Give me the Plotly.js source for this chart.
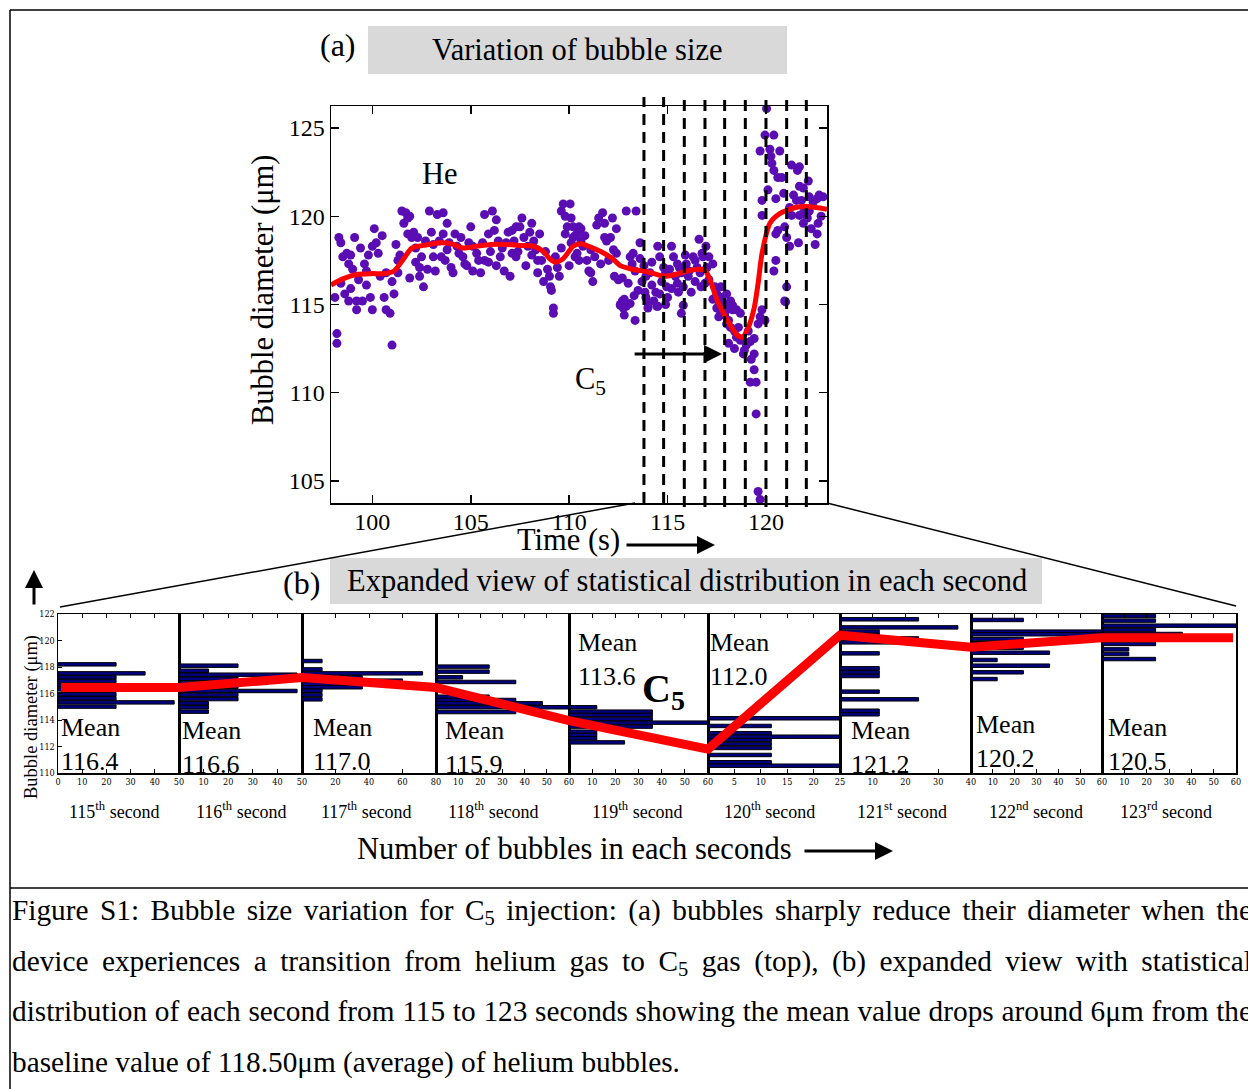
<!DOCTYPE html>
<html>
<head>
<meta charset="utf-8">
<script src="https://cdn.plot.ly/plotly-3.0.1.min.js"></script>
<style>
html,body{margin:0;padding:0;background:#fff;overflow:hidden;width:1248px;height:1089px;}
#chart{position:absolute;left:0;top:0;width:1248px;height:1089px;}
#caption{position:absolute;left:12px;top:885px;width:1240px;font-family:'Liberation Serif','Times New Roman',serif;font-size:29.3px;line-height:50.5px;color:#000;}
#caption div{text-align:justify;text-align-last:justify;}
#caption div.last{text-align:left;text-align-last:left;}
#caption sub{font-size:0.7em;vertical-align:-0.25em;line-height:0;}
</style>
</head>
<body>
<div id="chart"></div>
<div id="caption">
<div>Figure S1: Bubble size variation for C<sub>5</sub> injection: (a) bubbles sharply reduce their diameter when the</div>
<div>device experiences a transition from helium gas to C<sub>5</sub> gas (top), (b) expanded view with statistical</div>
<div>distribution of each second from 115 to 123 seconds showing the mean value drops around 6μm from the</div>
<div class="last">baseline value of 118.50μm (average) of helium bubbles.</div>
</div>
<script>
// ---------------- DATA ----------------
// (a) bubble diameter vs time
const scatterTime = [
98.1,98.3,98.4,98.5,98.6,98.7,98.8,98.9,99.0,99.1,98.8,99.2,99.3,99.5,99.6,99.7,99.7,99.9,100.0,100.1,100.2,100.3,99.2,100.0,
100.6,100.7,100.7,100.9,101.0,101.1,101.2,101.3,101.3,101.5,101.6,101.7,101.8,101.8,101.9,102.0,102.1,102.2,102.3,102.4,102.4,102.5,102.6,102.8,102.9,103.0,103.1,103.1,103.3,103.4,103.5,103.6,103.6,103.7,103.8,103.9,
104.0,104.1,104.2,104.4,104.5,104.6,104.7,104.9,105.1,105.1,105.3,105.4,105.6,105.7,105.7,105.9,106.0,106.1,106.2,106.3,106.4,106.5,106.7,106.8,106.9,107.0,107.1,107.2,107.3,107.3,
107.5,107.6,107.7,107.9,108.0,108.1,108.2,108.3,108.4,108.4,108.6,108.7,108.9,109.0,109.05,109.1,109.2,109.2,109.4,109.5,109.6,109.7,109.8,109.8,109.9,110.1,110.2,110.4,110.5,
98.2,98.2,101.0,112.6,112.8,112.9,113.1,113.35,114.0,114.5,115.7,117.5,117.7,117.9,118.1,118.2,118.3,118.4,118.5,118.1,118.4,118.7,118.85,119.0,119.2,119.4,119.4,119.25,118.9,119.4,119.2,119.5,119.5,119.6,119.7,119.7,119.95,119.8,121.0,
110.05,110.1,110.2,110.4,110.6,110.6,110.7,110.3,110.5,110.9,111.0,111.1,111.2,111.3,111.4,111.5,111.7,111.8,111.8,111.9,112.1,112.2,112.25,112.3,112.4,112.5,112.6,112.7,112.75,112.8,112.9,113.1,113.2,113.25,113.35,113.4,113.5,
113.6,113.7,113.8,113.85,113.9,114.0,114.1,114.2,114.3,114.4,114.45,114.5,114.6,114.7,114.8,114.9,114.95,115.0,115.1,115.2,115.3,115.4,115.5,115.55,115.6,115.7,115.8,115.9,115.95,116.05,116.1,116.3,116.4,116.5,116.6,116.65,116.75,116.8,116.9,116.95,117.0,117.1,117.3,
117.4,117.5,117.75,117.9,118.0,118.2,118.3,118.5,118.7,117.6,117.7,118.0,
120.03,119.95,120.4,119.7,120.2,120.7,120.25,120.3,120.4,120.6,120.8,121.6,121.7,122.15,121.7,121.9,122.2,122.6,122.7,122.9,121.4,121.55,121.2,121.3,121.7,121.9,122.2,122.65,122.6,122.5,
119.8,119.8,120.9,120.6,120.5,121.05,121.2,121.65,120.5,121.05,120.95,121.9,122.1,120.95,120.4,
98.4,98.9,99.4,99.8,100.4,100.5,101.4,101.9,102.2,102.7,103.2,103.8,104.3,104.8,105.0,105.5,105.9,106.3,106.6,107.1,107.4,107.8,108.1,108.5,108.8,109.3,109.6,110.0,110.3,110.8,
111.1,111.6,112.0,112.4,112.7,113.0,113.3,113.6,113.9,114.2,114.6,114.9,115.2,115.5,115.8,116.2,116.4,116.7,117.1,117.3,117.6,118.0,118.6,119.1,119.6,120.1,120.5,121.3,121.8,122.4,122.8,122.3
];
const scatterDiam = [
115.4,118.8,118.5,117.7,115.6,117.9,117.3,117.8,117.0,118.8,115.2,115.2,116.4,115.2,117.3,116.9,116.1,115.4,118.3,119.3,118.5,117.9,114.7,114.7,
115.4,116.8,114.7,114.5,116.3,115.6,118.4,116.8,117.5,120.3,119.6,120.2,119.0,119.9,120.0,118.8,119.1,118.2,118.8,117.1,116.6,117.7,116.0,117.0,120.3,119.1,118.4,117.7,120.1,118.6,117.7,120.2,119.0,117.5,119.6,118.5,
117.1,116.8,119.0,117.9,118.8,117.7,117.3,118.5,118.3,116.9,117.9,117.5,118.5,117.5,120.1,119.0,118.0,120.3,119.2,119.8,118.6,117.7,116.9,118.5,119.1,116.6,119.2,118.6,119.4,117.7,
119.4,119.9,118.8,118.3,119.1,119.6,118.6,118.1,117.5,116.8,117.5,116.3,117.0,116.6,116.0,115.8,114.8,114.5,117.1,116.6,120.3,120.7,120.0,119.0,119.4,118.5,118.8,117.9,119.4,
113.35,112.8,112.7,114.96,114.4,114.9,115.05,114.1,114.8,114.9,114.5,114.8,114.6,114.4,114.1,113.7,114.7,113.5,113.15,112.8,112.5,112.97,112.2,112.7,112.9,113.07,112.2,111.9,112.4,111.3,110.6,110.6,108.8,104.4,103.95,114.3,114.1,114.7,115.15,
120.7,119.9,119.4,119.0,119.3,118.6,118.3,117.7,117.5,117.5,116.9,116.8,116.3,117.7,119.5,119.9,120.2,119.6,118.8,118.6,118.8,119.9,118.1,116.6,117.9,116.4,115.0,115.2,114.8,115.3,120.3,117.7,117.3,117.9,116.9,120.3,115.8,
118.5,116.3,117.2,115.7,115.4,115.05,116.8,116.1,115.2,115.7,114.9,118.3,117.7,116.3,117.1,116.8,116.0,115.4,117.0,118.3,117.7,116.6,117.3,115.7,117.1,116.8,114.96,117.8,117.3,116.6,116.9,117.7,117.5,117.1,118.7,116.8,117.9,117.7,116.2,118.3,117.1,116.4,117.3,
116.0,115.6,115.4,115.05,114.7,115.2,114.96,114.7,114.5,115.2,116.0,115.6,
126.1,124.6,124.6,123.7,123.8,123.7,123.4,123.0,122.6,122.2,122.2,122.6,122.8,122.0,121.7,121.6,121.1,121.0,121.2,121.1,121.2,120.9,120.5,120.05,120.05,120.2,120.3,119.6,119.0,118.4,
120.9,120.05,121.3,119.2,119.0,118.8,118.3,118.5,117.5,116.0,115.2,119.6,119.9,119.4,116.9,
116.2,115.9,118.2,117.8,116.6,118.9,117.8,116.5,117.4,118.6,116.9,118.1,118.3,117.2,119.4,116.8,117.4,117.2,118.2,117.9,118.0,117.2,117.8,119.0,118.0,117.7,118.2,117.2,118.9,118.9,
118.1,117.3,117.5,119.3,116.5,116.2,115.5,117.6,116.6,117.4,115.6,115.0,115.9,116.2,116.0,115.7,116.3,116.0,117.7,115.3,114.3,113.9,113.7,113.5,113.9,121.5,121.0,122.9,120.9,120.8,120.0,119.3
];
// smoothed trend (red curve)
const fitTime = [97.9,98.5,99.2,100.0,100.6,101.1,101.6,102.0,102.6,103.4,104.0,104.6,105.3,106.0,106.8,107.5,108.2,108.7,109.0,109.3,109.7,110.2,110.6,111.2,111.7,112.2,112.6,113.2,113.8,114.3,114.8,115.4,116.0,116.5,116.9,117.15,117.5,117.8,118.2,118.5,118.8,119.1,119.4,119.6,119.8,120.2,120.7,121.5,122.1,123.1];
const fitDiam = [116.1,116.45,116.7,116.75,116.75,116.9,117.6,118.2,118.35,118.5,118.45,118.2,118.3,118.4,118.4,118.35,118.3,118.0,117.6,117.4,117.6,118.3,118.45,118.2,117.95,117.6,117.2,117.0,116.9,116.75,116.6,116.7,116.9,117.0,116.95,116.4,115.3,114.6,113.8,113.3,113.15,113.7,114.8,116.2,117.9,119.6,120.15,120.5,120.55,120.4];
// dashed second markers
const secondMarks = [113.8,114.8,115.85,116.9,117.9,118.95,120.0,121.05,122.05];
const topXTicks = [100,105,110,115,120];
const topYTicks = [105,110,115,120,125];

// (b) per-second histograms
const secondLabels = ['115<sup>th</sup> second','116<sup>th</sup> second','117<sup>th</sup> second','118<sup>th</sup> second','119<sup>th</sup> second','120<sup>th</sup> second','121<sup>st</sup> second','122<sup>nd</sup> second','123<sup>rd</sup> second'];
const meanValues = ['116.4','116.6','117.0','115.9','113.6','112.0','121.2','120.2','120.5'];
const countRanges = [50,50,80,60,60,25,40,60,60];
const countTicks = [[0,10,20,30,40,50],[10,20,30,40,50],[20,40,60,80],[10,20,30,40,50,60],[10,20,30,40,50,60],[5,10,15,20,25],[10,20,30,40],[10,20,30,40,50,60],[10,20,30,40,50,60]];
const diamTicks = [110,112,114,116,118,120,122];

const hist115Diam = [118.2,117.52,117.22,116.94,116.62,116.31,115.94,115.64,115.33,115.01];
const hist115Count = [24,36,24,24,24,24,24,24,48,24];
const hist116Diam = [118.1,117.72,117.42,117.11,116.8,116.5,116.19,115.89,115.58,115.26,114.96,114.63];
const hist116Count = [24,12,48,24,36,24,48,24,24,12,12,12];
const hist117Diam = [118.45,117.82,117.52,117.22,116.97,116.72,116.47,116.21,115.89,115.56];
const hist117Count = [12,12,72,36,60,36,36,12,12,12];
const hist118Diam = [118.03,117.65,117.22,116.87,115.76,115.51,115.26,114.96,114.6];
const hist118Count = [24,24,12,36,24,36,48,60,36];
const hist119Diam = [114.96,114.63,114.38,114.08,113.8,113.5,113.12,112.87,112.62,112.31];
const hist119Count = [12,36,36,36,60,36,12,12,12,24];
const hist120Diam = [114.13,113.55,113.0,112.74,112.49,112.19,111.89,111.36,110.81,110.55];
const hist120Count = [36,12,12,36,12,12,12,12,12,36];
const hist121Diam = [121.6,120.99,120.67,120.42,120.16,119.86,119.03,117.9,117.6,117.32,116.14,115.56,114.7,114.43];
const hist121Count = [24,36,12,12,24,24,12,12,12,12,12,24,12,12];
const hist122Diam = [121.55,120.67,120.47,120.11,119.79,119.46,119.08,118.53,118.1,117.6,117.09];
const hist122Count = [24,60,60,24,24,24,36,12,36,24,12];
const hist123Diam = [121.85,121.5,121.12,120.79,120.49,120.16,119.74,119.33,118.98,118.6];
const hist123Count = [24,24,60,24,36,36,24,12,12,24];
const histDiam = [hist115Diam,hist116Diam,hist117Diam,hist118Diam,hist119Diam,hist120Diam,hist121Diam,hist122Diam,hist123Diam];
const histCount = [hist115Count,hist116Count,hist117Count,hist118Count,hist119Count,hist120Count,hist121Count,hist122Count,hist123Count];
// mean trend line across the panels (read at panel edges)
const meanLineDiam = [116.45,116.45,117.2,116.45,113.95,111.8,120.4,119.5,120.2,120.2];

// ---------------- LAYOUT HELPERS ----------------
const W = 1248, H = 1089;
const px = x => x / W;
const py = y => 1 - y / H;
const SERIF = 'Liberation Serif, Times New Roman, serif';
const SMALL = 'DejaVu Serif Condensed, Liberation Serif, serif';
const BIG = 30.5;
const panelEdges = [58,179,302,436,569,708,840,971,1102,1236];
const bTop = 614, bBot = 773;

const traces = [];
traces.push({type:'scatter', mode:'markers', x:scatterTime, y:scatterDiam, xaxis:'x', yaxis:'y',
  marker:{color:'#5a0db3', size:9}, hoverinfo:'skip'});
traces.push({type:'scatter', mode:'lines', x:fitTime, y:fitDiam, xaxis:'x', yaxis:'y',
  line:{color:'#ff0000', width:5, shape:'spline', smoothing:0.7}, hoverinfo:'skip'});

const layout = {
  width: W, height: H,
  margin:{l:0,r:0,t:0,b:0},
  paper_bgcolor:'#ffffff', plot_bgcolor:'rgba(0,0,0,0)',
  showlegend:false,
  font:{family:SERIF, color:'#000'},
  xaxis:{domain:[px(331),px(827)], range:[97.9,123.1], anchor:'y', showline:true, mirror:'ticks', linewidth:1.5, linecolor:'#000',
    ticks:'inside', ticklen:8, tickwidth:1.5, tickcolor:'#000', tickvals:topXTicks, tickfont:{size:24, family:SERIF}, ticklabelstandoff:-3, showgrid:false, zeroline:false},
  yaxis:{domain:[py(503),py(106)], range:[103.75,126.25], anchor:'x', showline:true, mirror:'ticks', linewidth:1.5, linecolor:'#000',
    ticks:'inside', ticklen:8, tickwidth:1.5, tickcolor:'#000', tickvals:topYTicks, tickfont:{size:24, family:SERIF}, showgrid:false, zeroline:false},
  shapes:[], annotations:[]
};

for (let i = 0; i < 9; i++) {
  const k = i + 2;
  layout['xaxis'+k] = {domain:[px(panelEdges[i]), px(panelEdges[i+1])], range:[0,countRanges[i]], anchor:'y'+k,
    showline:true, mirror:'ticks', linewidth:1.5, linecolor:'#000', ticks:'inside', ticklen:4, tickwidth:1, tickcolor:'#000',
    tickvals:countTicks[i], tickfont:{size:9, family:SMALL}, showgrid:false, zeroline:false, fixedrange:true};
  layout['yaxis'+k] = {domain:[py(bBot), py(bTop)], range:[110,122], anchor:'x'+k,
    showline:true, mirror:true, linewidth:1.5, linecolor:'#000', ticks: i===0 ? 'inside' : '', ticklen:4, tickwidth:1, tickcolor:'#000',
    tickvals:diamTicks, showticklabels: i===0, tickfont:{size:9, family:SMALL}, showgrid:false, zeroline:false, fixedrange:true};
  traces.push({type:'bar', orientation:'h', x:histCount[i], y:histDiam[i], width:0.26, xaxis:'x'+k, yaxis:'y'+k,
    marker:{color:'#00007f', line:{color:'#000000', width:1}}, hoverinfo:'skip'});
}
// overlay axis for the mean trend (x in page pixels across the panel strip)
layout.xaxis11 = {domain:[px(panelEdges[0]), px(panelEdges[9])], range:[panelEdges[0], panelEdges[9]], anchor:'y11', visible:false, fixedrange:true};
layout.yaxis11 = {domain:[py(bBot), py(bTop)], range:[110,122], anchor:'x11', visible:false, fixedrange:true};
const meanLineX = panelEdges.slice(); meanLineX[0] += 3; meanLineX[9] -= 3;
traces.push({type:'scatter', mode:'lines', x:meanLineX, y:meanLineDiam, xaxis:'x11', yaxis:'y11',
  line:{color:'#ff0000', width:9}, cliponaxis:false, hoverinfo:'skip'});

// ---------------- SHAPES ----------------
const S = layout.shapes;
const pline = (x0,y0,x1,y1,w) => S.push({type:'line', xref:'paper', yref:'paper', x0:px(x0), y0:py(y0), x1:px(x1), y1:py(y1), line:{color:'#000', width:w||1.5}});
pline(10,10,10,1089); pline(10,10,1248,10); pline(10,888,1248,888);
pline(60,607,635,503); pline(827,503,1236,606);
S.push({type:'rect', xref:'paper', yref:'paper', x0:px(368), x1:px(787), y0:py(74), y1:py(26), fillcolor:'#d9d9d9', line:{width:0}, layer:'below'});
S.push({type:'rect', xref:'paper', yref:'paper', x0:px(330), x1:px(1042), y0:py(604), y1:py(558), fillcolor:'#d9d9d9', line:{width:0}, layer:'below'});
secondMarks.forEach((t, j) => S.push({type:'line', xref:'x', yref:'paper', x0:t, x1:t, y0:py(j < 2 ? 503 : 507), y1:py(97),
  line:{color:'#000', width:3, dash:'11px,7px'}}));

// ---------------- TEXT ----------------
const A = layout.annotations;
const txt = (x, y, text, size, opts) => A.push(Object.assign({xref:'paper', yref:'paper', x:px(x), y:py(y), text:text, showarrow:false,
  xanchor:'center', yanchor:'middle', font:{size:size, family:SERIF, color:'#000'}}, opts||{}));
txt(338, 45, '(a)', 32);
txt(577, 50, 'Variation of bubble size', BIG);
txt(440, 174, 'He', BIG);
txt(590, 381, 'C<sub>5</sub>', BIG);
txt(263, 290, 'Bubble diameter (μm)', BIG, {textangle:-90});
txt(568, 540, 'Time (s)', BIG);
txt(301, 583, '(b)', 32);
txt(687, 581, 'Expanded view of statistical distribution in each second', BIG);
txt(31, 717, 'Bubble diameter (μm)', 18.5, {textangle:-90});
txt(574, 849, 'Number of bubbles in each seconds', BIG);
txt(663, 691, '<b>C<sub>5</sub></b>', 40);
const meanLabelPos = [[59,744],[180,747],[311,744],[443,747],[576,659],[708,659],[849,747],[974,741],[1106,744]];
const secondLabelX = [114,241,366,493,637,769,902,1036,1166];
for (let i = 0; i < 9; i++) {
  txt(meanLabelPos[i][0], meanLabelPos[i][1], 'Mean<br>' + meanValues[i], 26, {xanchor:'left', align:'left'});
  txt(secondLabelX[i], 810, secondLabels[i], 18);
}
// arrows
A.push({xref:'x', yref:'y', axref:'x', ayref:'y', x:117.77, y:112.2, ax:113.25, ay:112.2, text:'', showarrow:true,
  arrowhead:2, arrowsize:1.2, arrowwidth:3, arrowcolor:'#000', standoff:0});
const parrow = (x, y, ax, ay) => A.push({xref:'paper', yref:'paper', x:px(x), y:py(y), ax:ax, ay:ay, text:'', showarrow:true,
  arrowhead:2, arrowsize:1.2, arrowwidth:3, arrowcolor:'#000', standoff:0});
parrow(715, 545, -90, 0);
parrow(893, 851, -90, 0);
parrow(34, 570, 0, 36);

Plotly.newPlot('chart', traces, layout, {displayModeBar:false, staticPlot:true});
</script>
</body>
</html>
